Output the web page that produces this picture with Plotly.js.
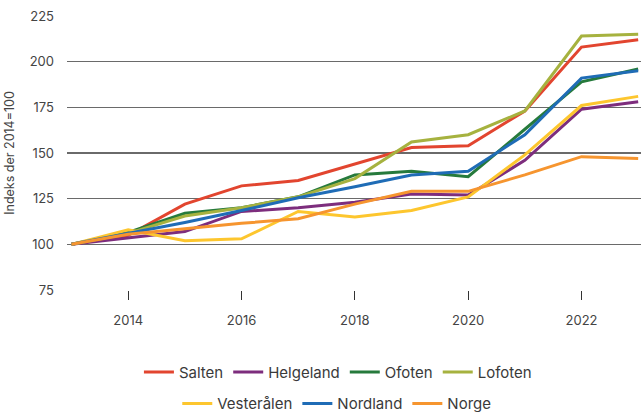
<!DOCTYPE html>
<html>
<head>
<meta charset="utf-8">
<script src="https://cdn.plot.ly/plotly-3.0.1.min.js"></script>
<style>html,body{margin:0;padding:0;background:#fff;}#chart{width:641px;height:412px;}</style>
</head>
<body>
<div id="chart"></div>
<script>
const years = [2013, 2014, 2015, 2016, 2017, 2018, 2019, 2020, 2021, 2022, 2023];
const salten     = [100, 105, 122, 132, 135, 144, 153, 154, 173, 208, 212];
const helgeland  = [100, 103.5, 107, 118, 120, 123, 127.5, 127, 146, 174, 178];
const ofoten     = [100, 106.5, 117, 120, 126, 138, 140, 137, 163, 189, 196];
const lofoten    = [100, 106, 115.5, 120, 126, 136, 156, 160, 173, 214, 215];
const vesteralen = [100, 108, 102, 103, 118, 115, 118.5, 126, 149, 176, 181];
const nordland   = [100, 106, 112, 118.5, 125.5, 131.5, 138, 140, 160, 191, 195];
const norge      = [100, 105.5, 108.5, 111.5, 114, 122, 129, 129, 138, 148, 147];
const yTicks = [75, 100, 125, 150, 175, 200, 225];
const xTicks = [2014, 2016, 2018, 2020, 2022];

const series = [
  {name: 'Salten', y: salten, color: '#e2452f', legend: 'legend'},
  {name: 'Helgeland', y: helgeland, color: '#7d2d7d', legend: 'legend'},
  {name: 'Ofoten', y: ofoten, color: '#267a3c', legend: 'legend'},
  {name: 'Lofoten', y: lofoten, color: '#a6b23f', legend: 'legend'},
  {name: 'Vesterålen', y: vesteralen, color: '#fdc62e', legend: 'legend2'},
  {name: 'Nordland', y: nordland, color: '#1f6cb6', legend: 'legend2'},
  {name: 'Norge', y: norge, color: '#f6952f', legend: 'legend2'}
];

const traces = series.map(s => ({
  x: years, y: s.y, name: s.name, type: 'scatter', mode: 'lines',
  line: {color: s.color, width: 3}, legend: s.legend
}));

const fontFam = 'Inter, Roboto, sans-serif';
const legendBase = {
  orientation: 'h', xanchor: 'center', yanchor: 'middle',
  font: {family: fontFam, size: 15, color: '#3a3a3a'},
  bgcolor: 'rgba(0,0,0,0)', itemwidth: 30
};

const layout = {
  width: 641, height: 412,
  margin: {l: 67, r: 0, t: 16, b: 122, autoexpand: false},
  paper_bgcolor: '#fff', plot_bgcolor: '#fff',
  showlegend: true,
  font: {family: fontFam, size: 13, color: '#444'},
  xaxis: {
    range: [2012.92, 2023.05], tickvals: xTicks, ticktext: xTicks.map(String),
    showgrid: false, zeroline: false,
    showline: false, ticks: 'outside', ticklen: 9, tickwidth: 1, tickcolor: '#333',
    ticklabelstandoff: 9,
    tickfont: {family: fontFam, size: 13, color: '#444'}
  },
  yaxis: {
    range: [75, 225], tickvals: yTicks, ticktext: yTicks.map(String),
    showgrid: true, gridcolor: '#6a6a6a', gridwidth: 1.3, zeroline: false,
    showline: false, ticks: '', ticklabelstandoff: 12,
    tickfont: {family: fontFam, size: 13, color: '#444'},
    title: {text: 'Indeks der 2014=100', font: {family: fontFam, size: 12.5, color: '#444'}, standoff: 12}
  },
  legend: Object.assign({}, legendBase, {x: 0.472, y: -0.30}),
  legend2: Object.assign({}, legendBase, {x: 0.47, y: -0.415})
};

Plotly.newPlot('chart', traces, layout, {displayModeBar: false, staticPlot: true});
</script>
</body>
</html>
